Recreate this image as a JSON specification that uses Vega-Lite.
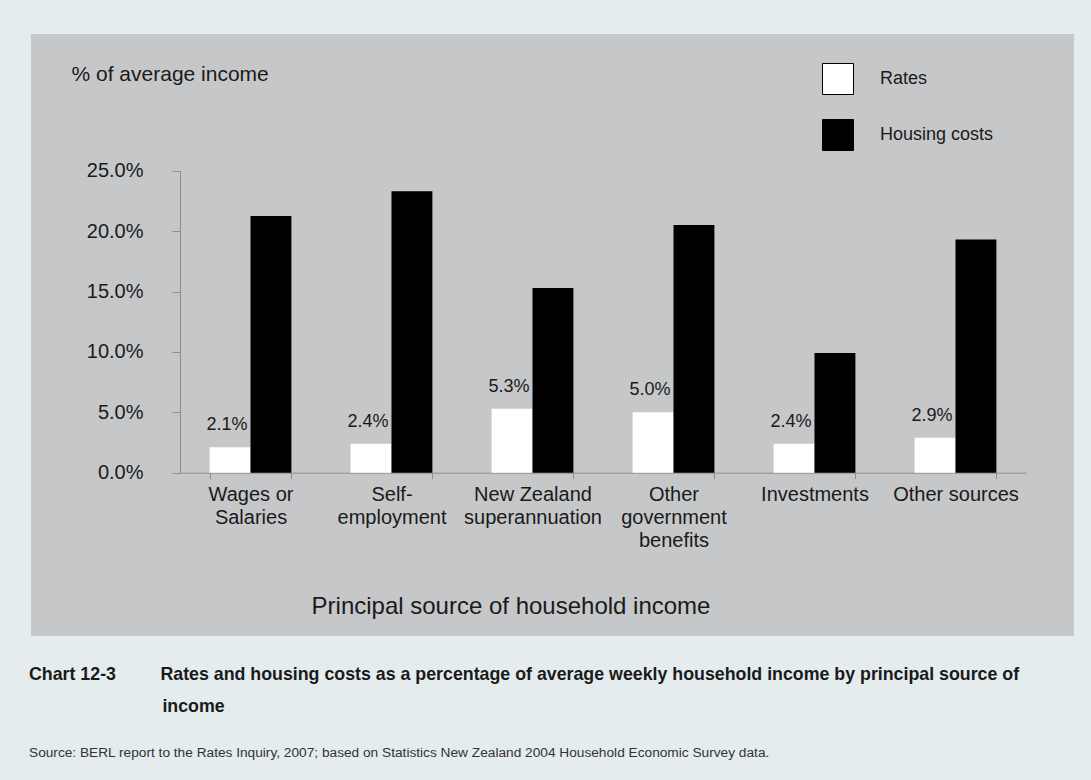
{
  "$schema": "https://vega.github.io/schema/vega-lite/v6.json",
  "width": 1043,
  "height": 602,
  "autosize": {"type": "none"},
  "padding": {"left": 31, "top": 34, "right": 17, "bottom": 144},
  "background": "#e4ecee",
  "config": {
    "view": {"fill": "#c6c7c9", "stroke": null},
    "font": "Liberation Sans"
  },
  "title": {
    "text": [
      "Chart 12-3\u00a0\u00a0\u00a0\u00a0\u00a0\u00a0\u00a0\u00a0\u00a0Rates and housing costs as a percentage of average weekly household income by principal source of",
      "\u200b\u00a0\u00a0\u00a0\u00a0\u00a0\u00a0\u00a0\u00a0\u00a0\u00a0\u00a0\u00a0\u00a0\u00a0\u00a0\u00a0\u00a0\u00a0\u00a0\u00a0\u00a0\u00a0\u00a0\u00a0\u00a0\u00a0\u00a0income"
    ],
    "subtitle": "Source: BERL report to the Rates Inquiry, 2007; based on Statistics New Zealand 2004 Household Economic Survey data.",
    "orient": "bottom",
    "anchor": "start",
    "frame": "group",
    "offset": 29.5,
    "dx": -2,
    "font": "Liberation Sans",
    "fontWeight": "bold",
    "fontSize": 17.8,
    "lineHeight": 32,
    "color": "#1a1a1a",
    "subtitleFont": "Liberation Sans",
    "subtitleFontSize": 13.7,
    "subtitleColor": "#333333",
    "subtitlePadding": 30.5
  },
  "data": {
    "values": [
      {"source": "Wages or Salaries", "series": "Rates", "value": 0.021},
      {"source": "Wages or Salaries", "series": "Housing costs", "value": 0.2125},
      {"source": "Self-employment", "series": "Rates", "value": 0.024},
      {"source": "Self-employment", "series": "Housing costs", "value": 0.233},
      {"source": "New Zealand superannuation", "series": "Rates", "value": 0.053},
      {"source": "New Zealand superannuation", "series": "Housing costs", "value": 0.153},
      {"source": "Other government benefits", "series": "Rates", "value": 0.05},
      {"source": "Other government benefits", "series": "Housing costs", "value": 0.205},
      {"source": "Investments", "series": "Rates", "value": 0.024},
      {"source": "Investments", "series": "Housing costs", "value": 0.099},
      {"source": "Other sources", "series": "Rates", "value": 0.029},
      {"source": "Other sources", "series": "Housing costs", "value": 0.193}
    ]
  },
  "layer": [
    {
      "mark": {"type": "bar"},
      "encoding": {
        "x": {
          "field": "source",
          "type": "nominal",
          "sort": null,
          "scale": {"range": [149, 995], "paddingInner": 0.42, "paddingOuter": 0.21},
          "axis": {
            "title": "Principal source of household income",
            "orient": "bottom",
            "offset": -163.3,
            "grid": false,
            "domainColor": "#8e8e8e",
            "tickColor": "#8e8e8e",
            "tickSize": 6,
            "tickBand": "extent",
            "labelAngle": 0,
            "labelFontSize": 20,
            "labelColor": "#1a1a1a",
            "labelLineHeight": 23,
            "labelPadding": 6,
            "labelLimit": 0,
            "labelExpr": "datum.value == 'Wages or Salaries' ? ['Wages or', 'Salaries'] : datum.value == 'Self-employment' ? ['Self-', 'employment'] : datum.value == 'New Zealand superannuation' ? ['New Zealand', 'superannuation'] : datum.value == 'Other government benefits' ? ['Other', 'government', 'benefits'] : datum.label",
            "titleFontSize": 24,
            "titleFontWeight": "normal",
            "titleColor": "#1a1a1a",
            "titleX": 479.5,
            "titleY": 140.3,
            "titleAlign": "center",
            "titleBaseline": "alphabetic"
          }
        },
        "xOffset": {"field": "series", "type": "nominal", "sort": ["Rates", "Housing costs"]},
        "y": {
          "field": "value",
          "type": "quantitative",
          "scale": {"domain": [0, 0.25], "range": [438.7, 136.7], "nice": false},
          "axis": {
            "title": "% of average income",
            "orient": "left",
            "offset": -149,
            "grid": false,
            "values": [0, 0.05, 0.1, 0.15, 0.2, 0.25],
            "format": ".1%",
            "domainColor": "#8e8e8e",
            "tickColor": "#8e8e8e",
            "tickSize": 8,
            "labelPadding": 29,
            "labelFontSize": 20,
            "labelColor": "#1a1a1a",
            "titleAngle": 0,
            "titleAlign": "left",
            "titleBaseline": "alphabetic",
            "titleX": -109,
            "titleY": 46,
            "titleFontSize": 21,
            "titleFontWeight": "normal",
            "titleColor": "#1a1a1a"
          }
        },
        "color": {
          "field": "series",
          "type": "nominal",
          "scale": {"domain": ["Rates", "Housing costs"], "range": ["#ffffff", "#000000"]},
          "legend": {
            "title": null,
            "orient": "none",
            "legendX": 791,
            "legendY": 29,
            "padding": 0,
            "symbolType": "square",
            "symbolSize": 961,
            "symbolStrokeColor": "#000000",
            "symbolStrokeWidth": 1,
            "labelFontSize": 18,
            "labelColor": "#1a1a1a",
            "labelOffset": 26,
            "rowPadding": 20
          }
        }
      }
    },
    {
      "transform": [{"filter": "datum.series == 'Rates'"}],
      "mark": {"type": "text", "fontSize": 18, "baseline": "alphabetic", "dy": -17, "dx": -3, "color": "#1a1a1a"},
      "encoding": {
        "x": {"field": "source", "type": "nominal", "sort": null},
        "xOffset": {"field": "series", "type": "nominal", "sort": ["Rates", "Housing costs"]},
        "y": {"field": "value", "type": "quantitative"},
        "text": {"field": "value", "type": "quantitative", "format": ".1%"}
      }
    }
  ]
}
